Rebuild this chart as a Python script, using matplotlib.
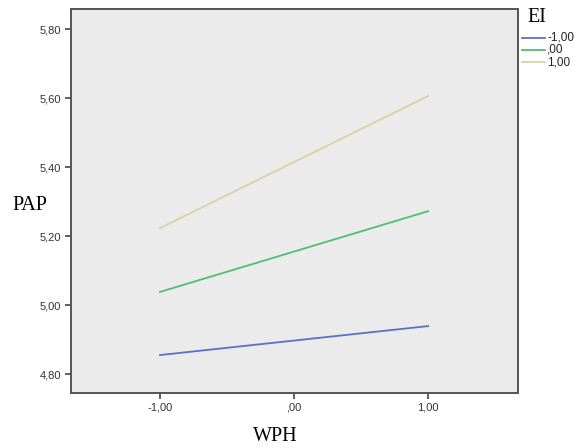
import matplotlib
matplotlib.use("Agg")
import matplotlib.pyplot as plt
from matplotlib.lines import Line2D

# Data
wph = [-1.0, 1.0]
ei_labels = ["-1,00", ",00", "1,00"]
pap_low = [4.855, 4.939]
pap_mid = [5.038, 5.272]
pap_high = [5.223, 5.606]
series = [pap_low, pap_mid, pap_high]
colors = ["#5a72c4", "#4cc06c", "#d6d4a4"]
yticks = [4.80, 5.00, 5.20, 5.40, 5.60, 5.80]
xticks = [-1.0, 0.0, 1.0]

def fmt(v):
    s = f"{v:.2f}".replace(".", ",")
    if s.startswith("0,"):
        s = s[1:]
    if s.startswith("-0,"):
        s = "-" + s[2:]
    return s

fig = plt.figure(figsize=(5.75, 4.48), dpi=100)
fig.patch.set_facecolor("white")
ax = fig.add_axes([71/575, 1-393/448, (518-71)/575, (393-9)/448])
ax.set_facecolor("#ebebeb")

for vals, c, lab in zip(series, colors, ei_labels):
    ax.plot(wph, vals, color=c, lw=1.3, label=lab)

ax.set_xlim(-1.664, 1.67)
ax.set_ylim(4.745, 5.858)
ax.set_xticks(xticks)
ax.set_xticklabels([fmt(v) for v in xticks], fontsize=8, family="Liberation Sans", color="#333333")
ax.set_yticks(yticks)
ax.set_yticklabels([fmt(v) for v in yticks], fontsize=8, family="Liberation Sans", color="#333333")
ax.tick_params(length=4, width=1.2, color="#444444", pad=3)
for sp in ax.spines.values():
    sp.set_color("#555555")
    sp.set_linewidth(1.4)

fig.text(30/575, 1-205/448, "PAP", family="Liberation Serif", fontsize=14.5,
         ha="center", va="center")
fig.text(275/575, 1-436/448, "WPH", family="Liberation Serif", fontsize=14.5,
         ha="center", va="center")
fig.text(527/575, 1-18/448, "EI", family="Liberation Serif", fontsize=14.5,
         ha="left", va="center")

ys = [38, 50, 62]
for y, c, lab in zip(ys, colors, ei_labels):
    fig.add_artist(Line2D([522/575, 545/575], [1-y/448, 1-y/448], color=c, lw=1.3))
    fig.text(547/575, 1-y/448, lab, family="Liberation Sans", fontsize=8.5,
             ha="left", va="center", color="#222222")

fig.savefig("out.png", dpi=100)
